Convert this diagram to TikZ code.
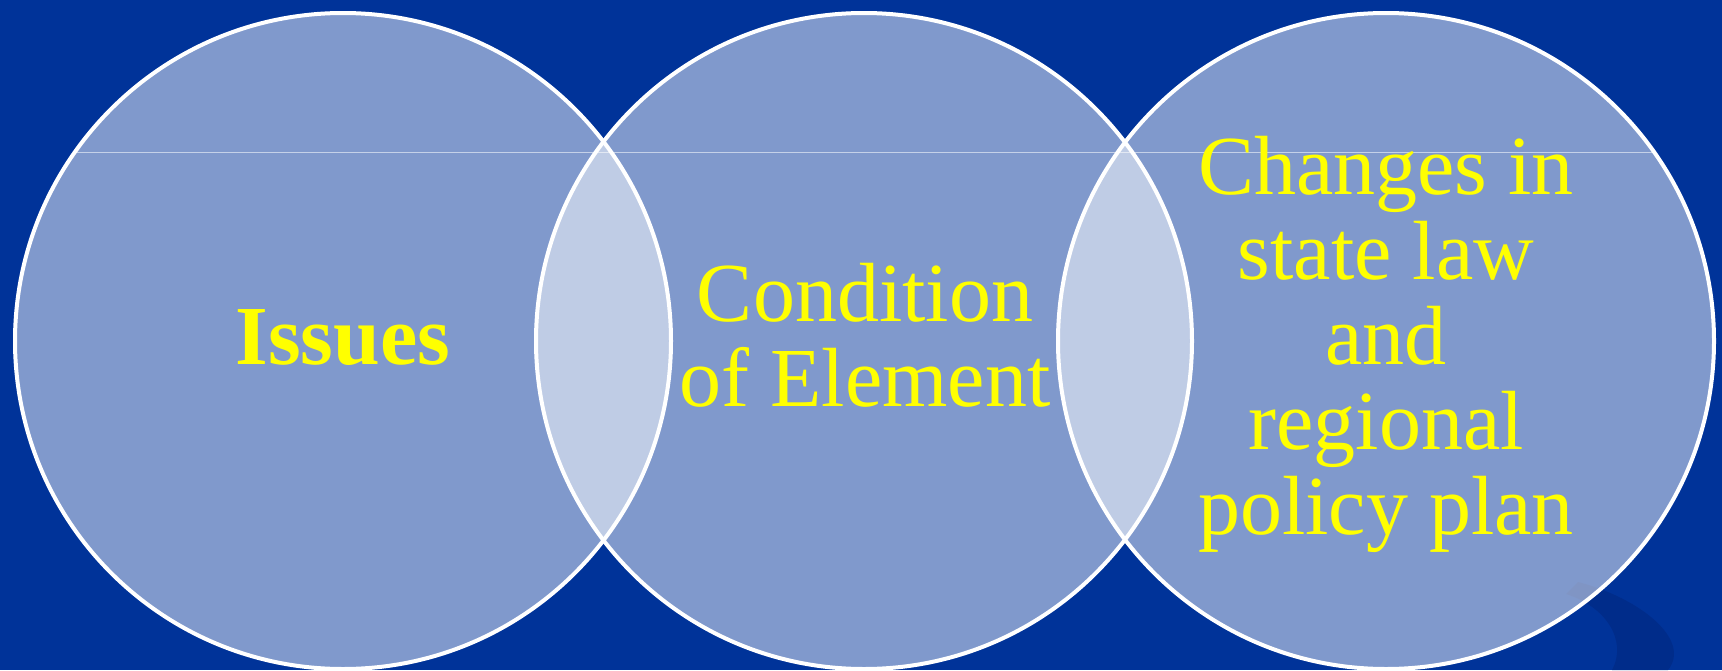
\documentclass[tikz,border=0pt]{standalone}
\usepackage{fontspec}
\setmainfont{Liberation Serif}
\definecolor{bgblue}{RGB}{0,51,153}
\definecolor{swooshblue}{RGB}{0,44,138}
\definecolor{txtyellow}{RGB}{255,255,0}

\begin{document}
\begin{tikzpicture}[x=1pt,y=-1pt,
    disk/.style={white, fill opacity=0.5},
    rim/.style={white, line width=4pt},
    lbl/.style={text=txtyellow, align=center, inner sep=0pt,
                font=\fontsize{84}{85}\selectfont}]
  % 背景（深蓝）
  \fill[bgblue] (0,0) rectangle (1722,670);
  \useasboundingbox (0,0) rectangle (1722,670);
  % 右下角暗色弧带
  \fill[swooshblue] (1578,582) .. controls (1640,598) and (1692,640) .. (1668,670)
    -- (1612,670) .. controls (1628,640) and (1605,606) .. (1566,594) -- cycle;
  % 三个半透明圆（圆心与半径）
  \def\rad{328}
  \def\centres{343/issuesC,864/condC,1386/changeC}
  \foreach \cx/\nm in \centres {
    \coordinate (\nm) at (\cx,341);
    \fill[disk] (\nm) circle (\rad);
  }
  % 圆内的细横线
  \begin{scope}
    \clip (issuesC) circle (\rad) (condC) circle (\rad) (changeC) circle (\rad);
    \draw[white, opacity=0.55, line width=1pt] (0,152) -- (1722,152);
  \end{scope}
  % 白色边界
  \foreach \cx/\nm in \centres
    \draw[rim] (\nm) circle (\rad);
  % 标注
  \node[lbl, font=\fontsize{84}{85}\selectfont\bfseries] (issues) at (343,338) {Issues};
  \node[lbl] (condition) at (865,335) {Condition\\of Element};
  \node[lbl] (changes) at (1386,344) {Changes in\\state law\\and\\regional\\policy plan};
\end{tikzpicture}
\end{document}
